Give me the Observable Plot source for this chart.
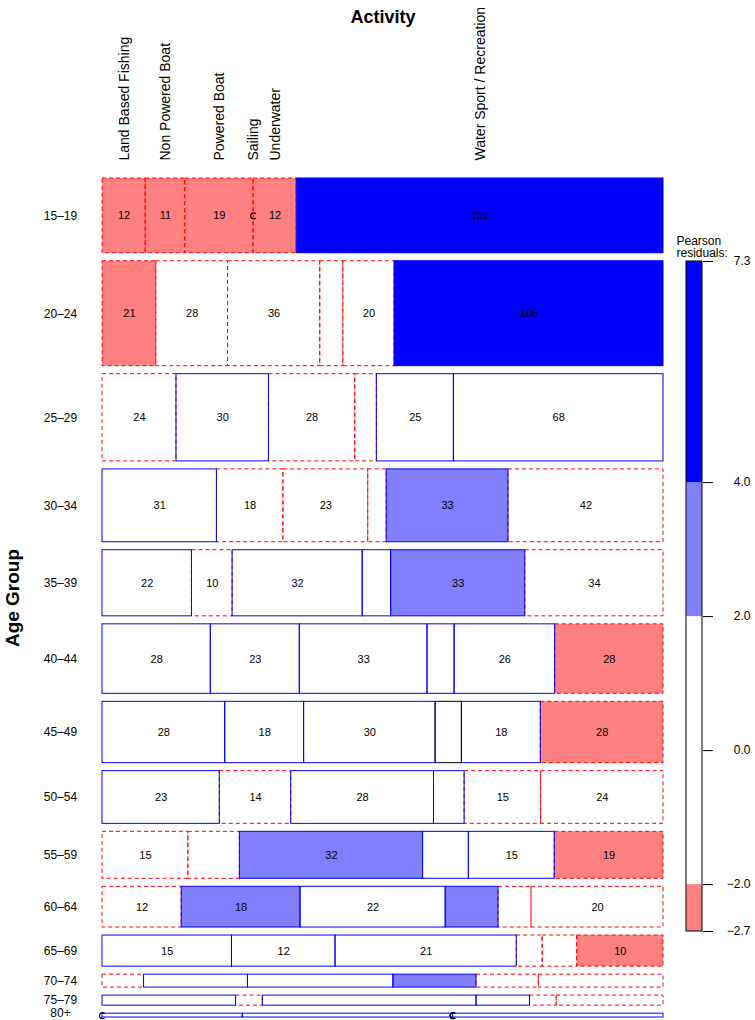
<!DOCTYPE html>
<html>
<head>
<meta charset="utf-8">
<script src="https://cdn.jsdelivr.net/npm/d3@7"></script>
<script src="https://cdn.jsdelivr.net/npm/@observablehq/plot@0.6"></script>
<style>
  html, body { margin: 0; padding: 0; background: #fff; }
  #wrap { position: relative; width: 755px; height: 1020px; font-family: "Liberation Sans", Arial, Helvetica, sans-serif; }
  #wrap svg { position: absolute; left: 0; top: 0; overflow: visible; }
</style>
</head>
<body>
<div id="wrap"></div>
<script>
// ---- data (counts read from the mosaic) ----
const ageGroups = ["15–19","20–24","25–29","30–34","35–39","40–44","45–49","50–54","55–59","60–64","65–69","70–74","75–79","80+"];
const activities = ["Land Based Fishing","Non Powered Boat","Powered Boat","Sailing","Underwater","Water Sport / Recreation"];
const landBasedFishing = [12,21,24,31,22,28,28,23,15,12,15,2,5,0];
const nonPoweredBoat   = [11,28,30,18,10,23,18,14, 9,18,12,5,1,2];
const poweredBoat      = [19,36,28,23,32,33,30,28,32,22,21,7,8,3];
const sailing          = [ 0, 9, 7, 5, 7, 7, 6, 6, 8, 8, 3,4,2,0];
const underwater       = [12,20,25,33,33,26,18,15,15, 5, 4,3,1,0];
const waterSport       = [102,105,68,42,34,28,28,24,19,20,10,6,4,3];
const legendBreaks = [-2, 0, 2, 4];

const series = [landBasedFishing, nonPoweredBoat, poweredBoat, sailing, underwater, waterSport];

// ---- derived table ----
const rowTot = ageGroups.map((_, i) => d3.sum(series, s => s[i]));
const colTot = series.map(s => d3.sum(s));
const N = d3.sum(rowTot);

const W = 755, H = 1020;
const mTop = 178, mBottom = 3, mLeft = 102, mRight = 92;
const plotH = H - mTop - mBottom;
const gapPx = 8;
const G = gapPx * N / (plotH - gapPx * (ageGroups.length - 1));
const yTotal = N + G * (ageGroups.length - 1);

function fillFor(r) {
  if (r > 4) return "#0000FF";
  if (r > 2) return "#8080FF";
  if (r < -4) return "#FF0000";
  if (r < -2) return "#FF8080";
  return "#FFFFFF";
}

const cells = [];
let y0 = 0;
ageGroups.forEach((age, i) => {
  let cum = 0;
  activities.forEach((act, j) => {
    const n = series[j][i];
    const E = rowTot[i] * colTot[j] / N;
    const r = (n - E) / Math.sqrt(E);
    cells.push({
      age, act, n, r, i, j,
      x1: cum / rowTot[i], x2: (cum + n) / rowTot[i],
      y1: y0, y2: y0 + rowTot[i],
      fill: fillFor(r),
      kind: Math.abs(r) < 0.01 ? "zero" : (r > 0 ? "pos" : "neg")
    });
    cum += n;
  });
  y0 += rowTot[i] + G;
});
const rows = ageGroups.map((age, i) => {
  const c = cells.find(d => d.i === i);
  return {age, y: (c.y1 + c.y2) / 2, last: i === ageGroups.length - 1};
});
const topCells = cells.filter(d => d.i === 0);

const cSymbol = {
  draw(ctx, size) {
    const r = Math.sqrt(size / Math.PI);
    ctx.moveTo(r * Math.cos(Math.PI / 4), r * Math.sin(Math.PI / 4));
    ctx.arc(0, 0, r, Math.PI / 4, 7 * Math.PI / 4);
  }
};

const font = "Liberation Sans, Arial, Helvetica, sans-serif";

const main = Plot.plot({
  width: W, height: H,
  marginTop: mTop, marginBottom: mBottom, marginLeft: mLeft, marginRight: mRight,
  style: {fontFamily: font, background: "transparent", overflow: "visible"},
  x: {domain: [0, 1], axis: null},
  y: {domain: [0, yTotal], reverse: true, axis: null},
  marks: [
    Plot.rect(cells, {x1: "x1", x2: "x2", y1: "y1", y2: "y2", fill: "fill"}),
    Plot.rect(cells.filter(d => d.kind === "neg"), {x1: "x1", x2: "x2", y1: "y1", y2: "y2", fill: "none", stroke: "#FF0000", strokeWidth: 1, strokeDasharray: "4,3"}),
    Plot.rect(cells.filter(d => d.kind === "pos"), {x1: "x1", x2: "x2", y1: "y1", y2: "y2", fill: "none", stroke: "#0000FF", strokeWidth: 1}),
    Plot.rect(cells.filter(d => d.kind === "zero"), {x1: "x1", x2: "x2", y1: "y1", y2: "y2", fill: "none", stroke: "#000000", strokeWidth: 1}),
    Plot.dot(cells.filter(d => d.n === 0), {x: "x1", y: d => (d.y1 + d.y2) / 2, r: 3, symbol: cSymbol, stroke: "#000", strokeWidth: 1.2, fill: "none"}),
    Plot.text(cells.filter(d => d.n >= 10), {x: d => (d.x1 + d.x2) / 2, y: d => (d.y1 + d.y2) / 2, text: d => String(d.n), fontSize: 11, fill: "#000"}),
    Plot.text(rows.filter(d => !d.last), {x: 0, y: "y", text: "age", dx: -42, fontSize: 12, fill: "#000"}),
    Plot.text(rows.filter(d => d.last), {x: 0, y: "y", text: "age", dx: -42, dy: -2, fontSize: 12, fill: "#000"}),
    Plot.text(topCells, {x: d => (d.x1 + d.x2) / 2, y: 0, text: "act", rotate: -90, textAnchor: "start", dy: -18, fontSize: 14, fill: "#000"}),
    Plot.text(["Activity"], {x: 0.5, y: 0, dy: -161, text: d => d, fontSize: 18, fontWeight: "bold", fill: "#000"}),
    Plot.text(["Age Group"], {x: 0, y: yTotal / 2, dx: -90, rotate: -90, text: d => d, fontSize: 19, fontWeight: "bold", fill: "#000"})
  ]
});

// ---- legend ----
const rMin = Math.round(d3.min(cells, d => d.r) * 10) / 10;
const rMax = Math.round(d3.max(cells, d => d.r) * 10) / 10;
const edges = [rMin, -2, 2, 4, rMax];
const bands = d3.pairs(edges).map(([a, b]) => ({a, b, fill: fillFor((a + b) / 2)}));
const ticks = [rMin, ...legendBreaks, rMax];

const legend = Plot.plot({
  width: W, height: H,
  marginTop: 261, marginBottom: 89, marginLeft: 686, marginRight: 53,
  style: {fontFamily: font, background: "transparent"},
  x: {domain: [0, 1], axis: null},
  y: {domain: [rMin, rMax], axis: null},
  marks: [
    Plot.rect(bands, {x1: 0, x2: 1, y1: "a", y2: "b", fill: "fill"}),
    Plot.rect([0], {x1: 0, x2: 1, y1: rMin, y2: rMax, fill: "none", stroke: "#000", strokeWidth: 1}),
    Plot.axisY(ticks, {anchor: "right", tickSize: 10, tickPadding: 38, tickFormat: d3.format(".1f"), textAnchor: "end", fontSize: 12, label: null}),
    Plot.text(["Pearson\nresiduals:"], {x: 0, y: rMax, dx: -10, dy: -5, textAnchor: "start", lineAnchor: "bottom", text: d => d, fontSize: 12, fill: "#000"})
  ]
});

const wrap = document.getElementById("wrap");
wrap.appendChild(main);
wrap.appendChild(legend);
</script>
</body>
</html>
